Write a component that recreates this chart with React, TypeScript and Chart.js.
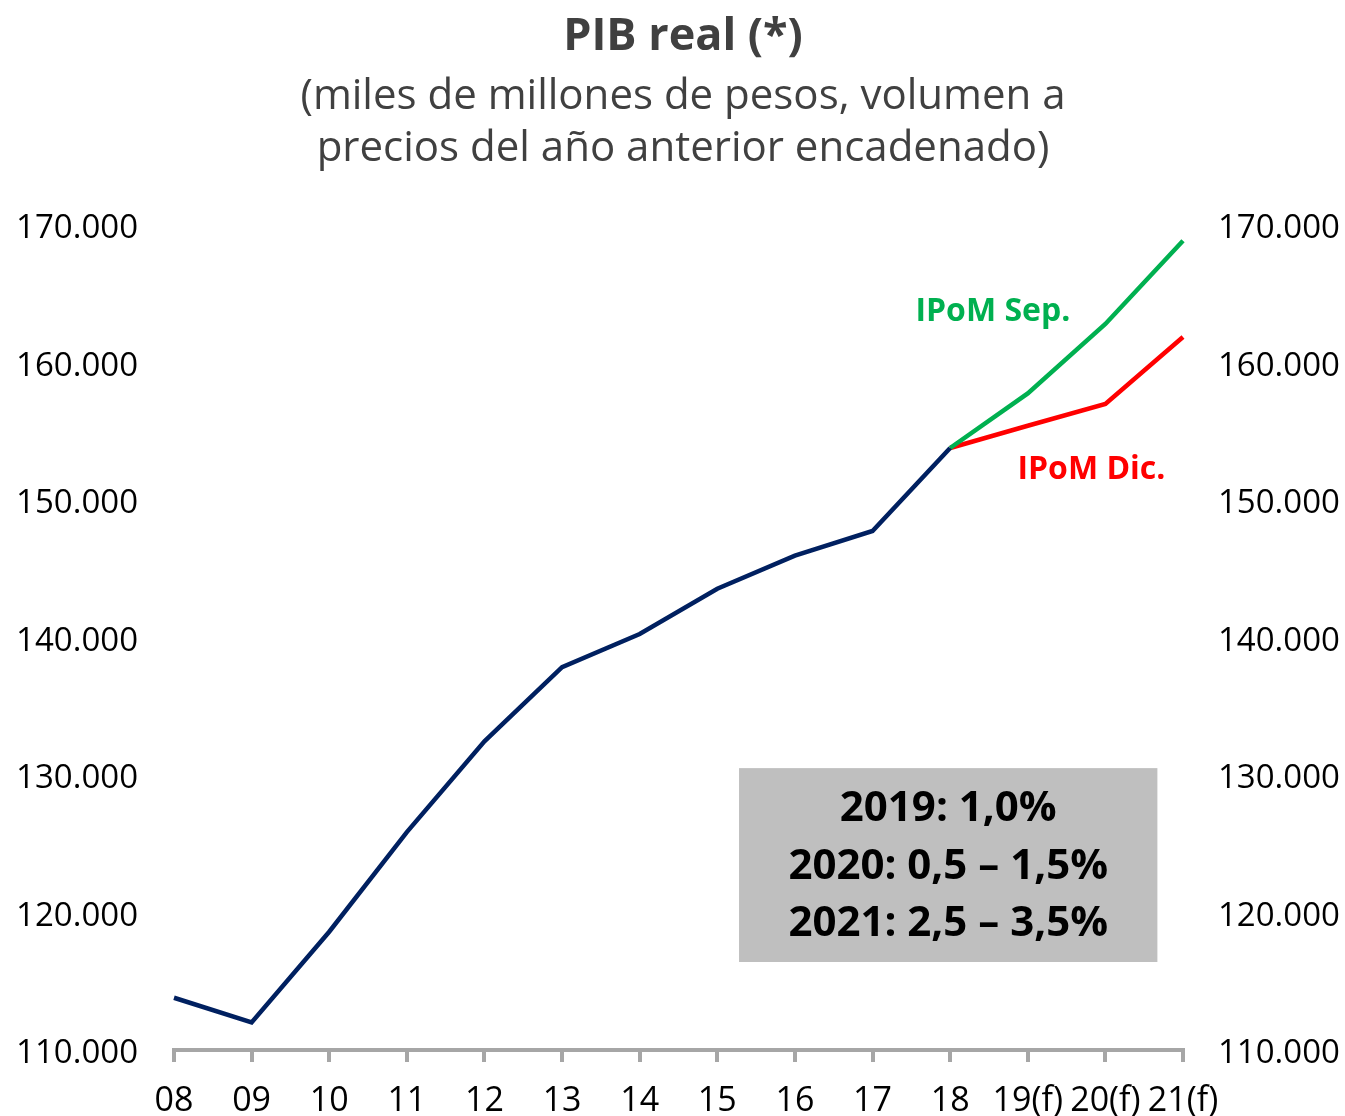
import React, { useEffect, useRef } from "react";
import { Chart, registerables } from "chart.js";

Chart.register(...registerables);

const categories = ["08", "09", "10", "11", "12", "13", "14", "15", "16", "17", "18", "19(f)", "20(f)", "21(f)"];
const historico = [113800, 112000, 118600, 125850, 132450, 137850, 140250, 143550, 145950, 147750, 153780, null, null, null];
const ipomSep = [null, null, null, null, null, null, null, null, null, null, 153780, 157750, 162800, 168850];
const ipomDic = [null, null, null, null, null, null, null, null, null, null, 153780, 155400, 156980, 161850];
const yTicks = [110000, 120000, 130000, 140000, 150000, 160000, 170000];
const titleText = "PIB real (*)";
const subtitleLines = ["(miles de millones de pesos, volumen a", "precios del año anterior encadenado)"];
const boxLines = ["2019: 1,0%", "2020: 0,5 – 1,5%", "2021: 2,5 – 3,5%"];

const FONT = "'Open Sans', 'Noto Sans', sans-serif";

function fmt(v: number) {
  return Math.round(v).toString().replace(/\B(?=(\d{3})+(?!\d))/g, ".");
}

const overlayPlugin = {
  id: "overlay",
  afterDatasetsDraw(chart: any) {
    const ctx = chart.ctx;
    const x = chart.scales.x;
    const y = chart.scales.y;
    const cx = 683;
    ctx.save();
    ctx.textAlign = "center";
    ctx.textBaseline = "middle";
    ctx.fillStyle = "#404040";
    ctx.font = `bold 45px ${FONT}`;
    ctx.fillText(titleText, cx, 37);
    ctx.font = `42px ${FONT}`;
    ctx.fillText(subtitleLines[0], cx, 97);
    ctx.fillText(subtitleLines[1], cx, 149);

    // annotation box
    const bx0 = x.getPixelForValue(7.28);
    const bx1 = x.getPixelForValue(12.67);
    const by0 = y.getPixelForValue(130500);
    const by1 = y.getPixelForValue(116400);
    ctx.fillStyle = "#bfbfbf";
    ctx.fillRect(bx0, by0, bx1 - bx0, by1 - by0);
    ctx.fillStyle = "#000000";
    ctx.font = `bold 42px ${FONT}`;
    const bcx = (bx0 + bx1) / 2;
    const bcy = (by0 + by1) / 2;
    ctx.fillText(boxLines[0], bcx, bcy - 56);
    ctx.fillText(boxLines[1], bcx, bcy + 2);
    ctx.fillText(boxLines[2], bcx, bcy + 59);

    // series labels
    ctx.font = `bold 32px ${FONT}`;
    ctx.fillStyle = "#00b050";
    ctx.fillText("IPoM Sep.", x.getPixelForValue(10.55), y.getPixelForValue(163650));
    ctx.fillStyle = "#ff0000";
    ctx.fillText("IPoM Dic.", x.getPixelForValue(11.82), y.getPixelForValue(152180));
    ctx.restore();
  },
};

export default function App() {
  const ref = useRef<HTMLCanvasElement | null>(null);
  useEffect(() => {
    document.body.style.margin = "0";
    const canvas = ref.current!;
    const yCommon = {
      min: 110000,
      max: 170000,
      afterBuildTicks: (s: any) => {
        s.ticks = yTicks.map((v) => ({ value: v }));
      },
      grid: { display: false, drawTicks: false },
      border: { display: false },
      ticks: {
        color: "#000000",
        labelOffset: 4,
        font: { family: FONT, size: 33 },
        callback: (v: any) => fmt(Number(v)),
      },
    };
    const chart = new Chart(canvas, {
      type: "line",
      data: {
        labels: categories,
        datasets: [
          { data: historico, borderColor: "#002060", borderWidth: 4.5, pointRadius: 0, tension: 0 },
          { data: ipomSep, borderColor: "#00b050", borderWidth: 4.5, pointRadius: 0, tension: 0 },
          { data: ipomDic, borderColor: "#ff0000", borderWidth: 4.5, pointRadius: 0, tension: 0 },
        ],
      },
      options: {
        animation: false,
        responsive: false,
        maintainAspectRatio: false,
        layout: { padding: { top: 225, bottom: 0, left: 0, right: 0 } },
        plugins: { legend: { display: false }, tooltip: { enabled: false }, title: { display: false } },
        scales: {
          x: {
            offset: false,
            grid: { drawOnChartArea: false, drawTicks: true, tickLength: 12, color: "#a6a6a6", lineWidth: 4, offset: false },
            border: { display: true, color: "#a6a6a6", width: 4 },
            ticks: {
              color: "#000000",
              autoSkip: false,
              maxRotation: 0,
              minRotation: 0,
              padding: 19,
              font: { family: FONT, size: 34 },
            },
            afterFit: (s: any) => {
              s.height = 66;
            },
          },
          y: {
            ...yCommon,
            position: "left",
            ticks: { ...yCommon.ticks, padding: 36 },
            afterFit: (s: any) => {
              s.width = 174;
            },
          },
          y2: {
            ...yCommon,
            position: "right",
            ticks: { ...yCommon.ticks, padding: 35 },
            afterFit: (s: any) => {
              s.width = 162;
            },
          },
        },
      },
      plugins: [overlayPlugin],
    } as any);
    return () => chart.destroy();
  }, []);
  return (
    <div style={{ width: 1345, height: 1116, background: "#ffffff" }}>
      <canvas ref={ref} width={1345} height={1116} style={{ display: "block" }} />
    </div>
  );
}
